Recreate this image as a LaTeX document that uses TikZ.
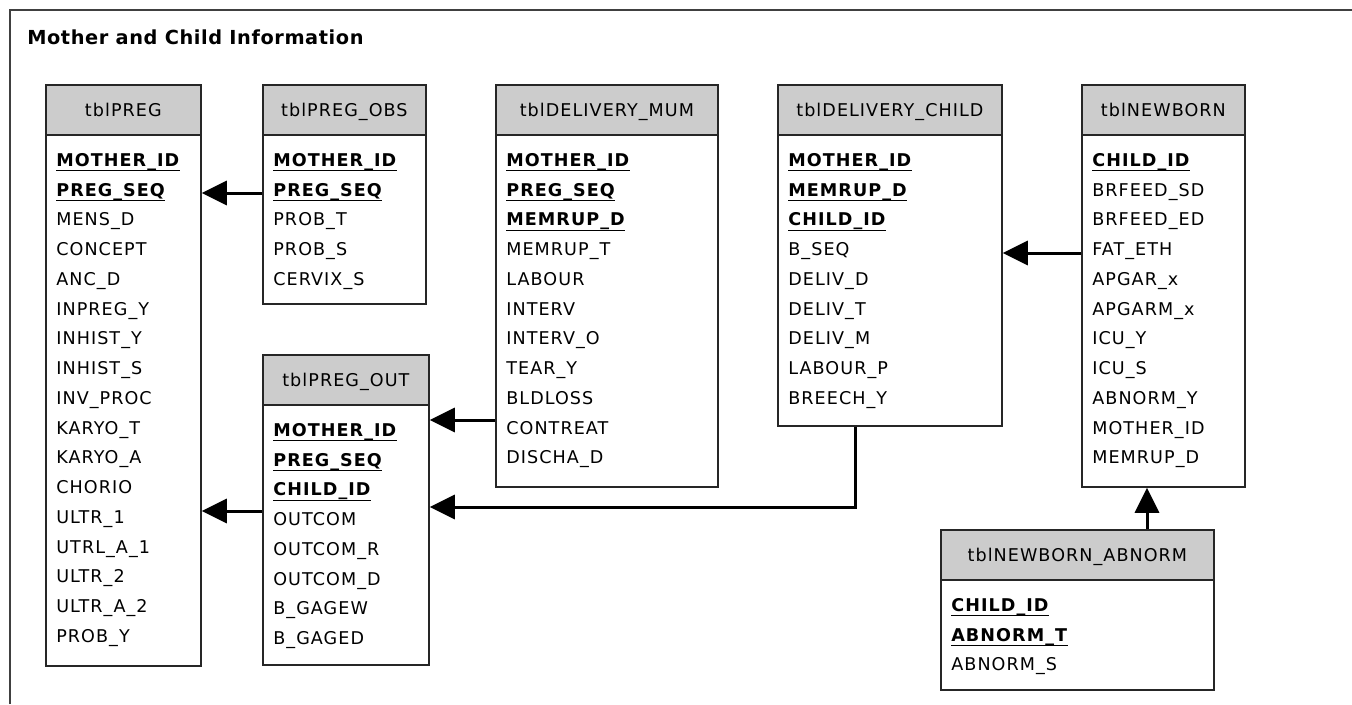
\documentclass[tikz,border=0pt]{standalone}
\usepackage{fontspec}
\setmainfont[LetterSpace=6]{DejaVu Sans}
\newfontfamily\titlefont[LetterSpace=3]{DejaVu Sans}
\usetikzlibrary{arrows.meta}
\def\px{0.02cm}
\tikzset{
	tblbox/.style={draw=black!85, line width=1pt, fill=white, anchor=north west, inner sep=0pt},
	tblhead/.style={draw=black!85, line width=1pt, fill=black!20, anchor=north, minimum height=50*\px, inner sep=0pt, text height=7.3pt, text depth=0pt, font=\fontsize{10}{12}\selectfont},
	field/.style={anchor=base west, inner sep=0pt, font=\fontsize{10}{12}\selectfont},
	keyfield/.style={field, font=\fontsize{10}{12}\selectfont\bfseries},
	keyline/.style={line width=0.8pt},
	fk/.style={line width=1.7pt, -{Triangle[length=0.5cm, width=0.48cm]}},
	frame/.style={line width=1.2pt, color=black!75}
}
\def\dbtable#1#2#3#4#5#6#7#8{%
	\node[tblbox, minimum width=#4*\px, minimum height=#5*\px] (#1) at (#2,#3) {};
	\node[tblhead, minimum width=#4*\px] (#1-head) at (#1.north) {#6};
	\foreach \f [count=\i] in {#7} {
		\node[keyfield] (#1-\i) at ([shift={(11,{30.5+29.75*(\i-1)})}]#1-head.south west) {\f};
		\draw[keyline] ([shift={(0,4.5)}]#1-\i.base west) -- ([shift={(0,4.5)}]#1-\i.base east);
		\xdef\nkeys{\i}
	}
	\foreach \f [count=\j] in {#8} {
		\pgfmathtruncatemacro\i{\j+\nkeys}
		\node[field] (#1-\i) at ([shift={(11,{30.5+29.75*(\i-1)})}]#1-head.south west) {\f};
	}
}

\begin{document}
\begin{tikzpicture}[x=0.02cm, y=-0.02cm]
	%%%%% START %%%%%
	\useasboundingbox (0,0) rectangle (1352,704);
	\draw[frame] (10,704) -- (10,10) -- (1352,10);
	
	\node[anchor=base west, inner sep=0pt, font=\titlefont\fontsize{11}{13}\selectfont\bfseries] (title) at (27,44) {Mother and Child Information};
	
	\dbtable{preg}{45}{84}{155}{581}{tblPREG}{MOTHER\_ID,PREG\_SEQ}{MENS\_D,CONCEPT,ANC\_D,INPREG\_Y,INHIST\_Y,INHIST\_S,INV\_PROC,KARYO\_T,KARYO\_A,CHORIO,ULTR\_1,UTRL\_A\_1,ULTR\_2,ULTR\_A\_2,PROB\_Y}
	\dbtable{obs}{262}{84}{163}{219}{tblPREG\_OBS}{MOTHER\_ID,PREG\_SEQ}{PROB\_T,PROB\_S,CERVIX\_S}
	\dbtable{out}{262}{354}{166}{310}{tblPREG\_OUT}{MOTHER\_ID,PREG\_SEQ,CHILD\_ID}{OUTCOM,OUTCOM\_R,OUTCOM\_D,B\_GAGEW,B\_GAGED}
	\dbtable{mum}{495}{84}{222}{402}{tblDELIVERY\_MUM}{MOTHER\_ID,PREG\_SEQ,MEMRUP\_D}{MEMRUP\_T,LABOUR,INTERV,INTERV\_O,TEAR\_Y,BLDLOSS,CONTREAT,DISCHA\_D}
	\dbtable{child}{777}{84}{224}{341}{tblDELIVERY\_CHILD}{MOTHER\_ID,MEMRUP\_D,CHILD\_ID}{B\_SEQ,DELIV\_D,DELIV\_T,DELIV\_M,LABOUR\_P,BREECH\_Y}
	\dbtable{newborn}{1081}{84}{163}{402}{tblNEWBORN}{CHILD\_ID}{BRFEED\_SD,BRFEED\_ED,FAT\_ETH,APGAR\_x,APGARM\_x,ICU\_Y,ICU\_S,ABNORM\_Y,MOTHER\_ID,MEMRUP\_D}
	\dbtable{abnorm}{940}{529}{273}{160}{tblNEWBORN\_ABNORM}{CHILD\_ID,ABNORM\_T}{ABNORM\_S}
	
	\draw[fk] (obs.west |- 0,193) -- (preg.east |- 0,193);
	\draw[fk] (out.west |- 0,511) -- (preg.east |- 0,511);
	\draw[fk] (mum.west |- 0,420) -- (out.east |- 0,420);
	\draw[fk] (child.south -| 855,0) |- (out.east |- 0,507);
	\draw[fk] (newborn.west |- 0,253) -- (child.east |- 0,253);
	\draw[fk] (abnorm.north -| 1147,0) -- (newborn.south -| 1147,0);
	%%%%% END %%%%%
\end{tikzpicture}
\end{document}
